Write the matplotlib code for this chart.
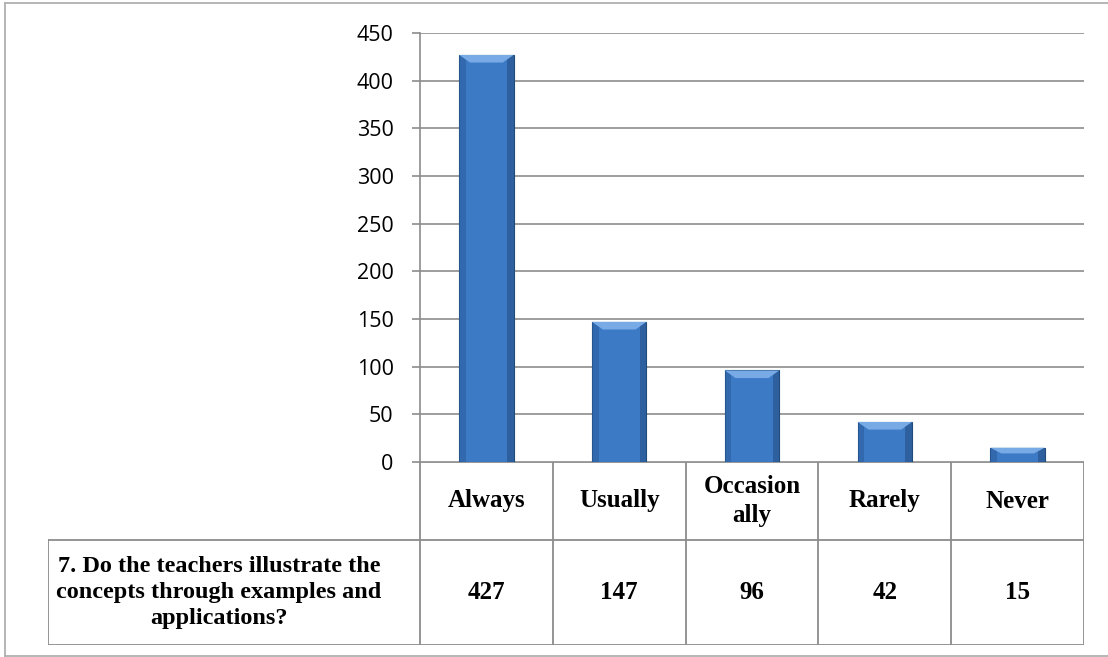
import matplotlib
matplotlib.use("Agg")
from matplotlib import pyplot as plt
from matplotlib.patches import Polygon, Rectangle
import numpy as np

categories = ["Always", "Usually", "Occasion\nally", "Rarely", "Never"]
counts = [427, 147, 96, 42, 15]
question = "7. Do the teachers illustrate the\nconcepts through examples and\napplications?"
yticks = [0, 50, 100, 150, 200, 250, 300, 350, 400, 450]

W, H = 1108, 657
fig = plt.figure(figsize=(W / 100, H / 100), dpi=100)

def fx(px):
    return px / W

def fy(py):
    return 1 - py / H

grid_c = "#8c8c8c"
serif = ["Liberation Serif", "DejaVu Serif"]
sans = ["Open Sans", "Liberation Sans", "DejaVu Sans"]

# outer frame (left, top, bottom)
frame_c = "#b0b0b0"
fig.add_artist(plt.Line2D([fx(5), fx(5)], [fy(656), fy(3)], color=frame_c, lw=1.3))
fig.add_artist(plt.Line2D([fx(5), 1], [fy(3), fy(3)], color=frame_c, lw=1.3))
fig.add_artist(plt.Line2D([fx(5), 1], [fy(656), fy(656)], color=frame_c, lw=1.3))

# bar area
ax = fig.add_axes([fx(420), fy(462), fx(1084) - fx(420), fy(33) - fy(462)])
x = np.arange(len(counts))
bw = 0.41
ax.bar(x, counts, width=bw, color="#3d7ac6", edgecolor="#1f4a7a", linewidth=0.8, zorder=3)
# side shading and top bevel for the 3D look
for xi, v in zip(x, counts):
    ax.add_patch(Rectangle((xi - bw / 2, 0), bw * 0.12, v, facecolor="#2c5f9e",
                           edgecolor="none", alpha=0.6, zorder=4))
    ax.add_patch(Rectangle((xi + bw / 2 - bw * 0.12, 0), bw * 0.12, v, facecolor="#244f86",
                           edgecolor="none", alpha=0.6, zorder=4))
    bev = min(8, v * 0.4)
    ax.add_patch(Polygon([(xi - bw / 2, v), (xi + bw / 2, v),
                          (xi + bw / 2 - bw * 0.2, v - bev), (xi - bw / 2 + bw * 0.2, v - bev)],
                         closed=True, facecolor="#78aae6", edgecolor="none", zorder=5))
ax.set_xlim(-0.5, len(counts) - 0.5)
ax.set_ylim(0, 450)
ax.set_yticks(yticks)
ax.set_yticklabels([str(t) for t in yticks], fontfamily=sans, fontsize=15.5)
ax.set_xticks([])
ax.yaxis.grid(True, color=grid_c, linewidth=1.2, zorder=0)
ax.tick_params(axis="y", length=6, width=1.2, color=grid_c, pad=13)
for s in ["top", "right", "bottom"]:
    ax.spines[s].set_visible(False)
ax.spines["left"].set_color(grid_c)
ax.spines["left"].set_linewidth(1.2)
ax.patch.set_alpha(0)

# data table below
ux = (1084 - 420) / len(counts)
left_units = (420 - 48) / ux
tab = fig.add_axes([fx(48), fy(645), fx(1084) - fx(48), fy(462) - fy(645)])
tab.set_xlim(-0.5 - left_units, len(counts) - 0.5)
tab.set_ylim(0, 645 - 462)
tab.axis("off")
hdr_top = 645 - 462
hdr_bot = 645 - 540
lw = 1.3
tab.plot([-0.5, len(counts) - 0.5], [hdr_top, hdr_top], color=grid_c, lw=lw)
tab.plot([-0.5 - left_units, len(counts) - 0.5], [hdr_bot, hdr_bot], color=grid_c, lw=lw)
tab.plot([-0.5 - left_units, len(counts) - 0.5], [0, 0], color=grid_c, lw=lw)
tab.plot([-0.5 - left_units, -0.5 - left_units], [0, hdr_bot], color=grid_c, lw=lw)
for i in range(len(counts) + 1):
    tab.plot([i - 0.5, i - 0.5], [0, hdr_top], color=grid_c, lw=lw)
for i, (c, v) in enumerate(zip(categories, counts)):
    tab.text(i, (hdr_top + hdr_bot) / 2, c, ha="center", va="center", fontfamily=serif,
             fontweight="bold", fontsize=18, linespacing=1.3)
    tab.text(i, hdr_bot / 2, str(v), ha="center", va="center", fontfamily=serif,
             fontweight="bold", fontsize=18)
# question text sits a bit left of the cell centre, like the original
tab.text(-0.5 - left_units * 0.54, hdr_bot / 2, question, ha="center", va="center",
         fontfamily=serif, fontweight="bold", fontsize=17.5, linespacing=1.3)

fig.savefig("out.png", dpi=100)
